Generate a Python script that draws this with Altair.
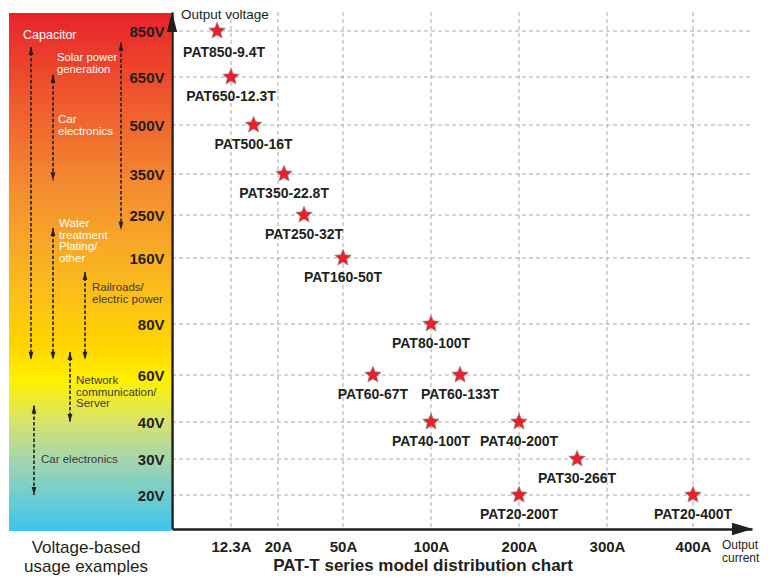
import altair as alt
import pandas as pd

# ---------------- data ----------------
models = ["PAT850-9.4T", "PAT650-12.3T", "PAT500-16T", "PAT350-22.8T", "PAT250-32T",
          "PAT160-50T", "PAT80-100T", "PAT60-67T", "PAT60-133T", "PAT40-100T",
          "PAT40-200T", "PAT30-266T", "PAT20-200T", "PAT20-400T"]
voltages = [850, 650, 500, 350, 250, 160, 80, 60, 60, 40, 40, 30, 20, 20]
currents = [9.4, 12.3, 16, 22.8, 32, 50, 100, 67, 133, 100, 200, 266, 200, 400]

voltage_ticks = [20, 30, 40, 60, 80, 160, 250, 350, 500, 650, 850]
current_ticks = [12.3, 20, 50, 100, 200, 300, 400]

usage_labels = ["Capacitor", "Solar power\ngeneration", "Car\nelectronics",
                "Water\ntreatment\nPlating/\nother", "Railroads/\nelectric power",
                "Network\ncommunication/\nServer", "Car electronics"]
usage_high = [780, 800, 660, 223, 143, 69, 47]
usage_low = [66, 219, 335, 66, 66, 40, 20]

# ---------------- layout / style ----------------
W, H = 580, 517
COND = "'Liberation Sans', Arial, sans-serif"
REG = "'Liberation Sans', Arial, sans-serif"
DARK = "#231f20"
STAR = ("M0,-1L0.2645,-0.3641L0.9511,-0.309L0.428,0.1391L0.5878,0.809L0,0.45"
        "L-0.5878,0.809L-0.428,0.1391L-0.9511,-0.309L-0.2645,-0.3641Z")

arrow_x = [-141, -51, -119, -119, -87, -102, -138]
label_pos = [(-149, 27, 12.5), (-115, 49, 11.3), (-114, 111, 11.5), (-113, 215, 11.5),
             (-80, 279, 11.5), (-96, 372, 11.5), (-131, 451, 11.5)]
label_col = ["white", "white", "white", "white", "#3a3a3a", "#3a3a3a", "#3a3a3a"]

xscale = alt.Scale(type="linear", domain=[0, 12.3, 20, 50, 100, 200, 300, 400, 466],
                   range=[0, 59, 106, 171, 259, 347, 435, 521, 580], nice=False, zero=False)
yscale = alt.Scale(type="linear", domain=[0, 20, 30, 40, 60, 80, 160, 250, 350, 500, 650, 850, 900],
                   range=[517, 483, 447, 410, 363, 312, 246, 203, 162, 113, 65, 19, 0],
                   nice=False, zero=False)

xaxis = alt.Axis(values=current_ticks, labelExpr="datum.value + 'A'", grid=False, ticks=False,
                 labelFont=COND, labelFontWeight="bold", labelFontSize=15, labelColor=DARK,
                 labelPadding=10, domainColor=DARK, domainWidth=2.5, title=None, zindex=1,
                 labelFlush=False, labelOverlap=False)
yaxis = alt.Axis(values=voltage_ticks, labelExpr="datum.value + 'V'", grid=False, ticks=False,
                 labelFont=COND, labelFontWeight="bold", labelFontSize=15, labelColor=DARK,
                 labelPadding=8, domainColor=DARK, domainWidth=2.5, title=None, zindex=1,
                 labelFlush=False, labelOverlap=False, labelBaseline="middle")

one = pd.DataFrame({"a": [0]})

df = pd.DataFrame({"model": models, "voltage": voltages, "current": currents})
X = alt.X("current:Q", scale=xscale, axis=xaxis)
Y = alt.Y("voltage:Q", scale=yscale, axis=yaxis)

# gradient panel
grad = alt.Gradient(gradient="linear", x1=0, x2=0, y1=0, y2=1, stops=[
    alt.GradientStop(color="#e8232a", offset=0),
    alt.GradientStop(color="#ef5a2d", offset=0.17),
    alt.GradientStop(color="#f4922f", offset=0.36),
    alt.GradientStop(color="#fbbc1c", offset=0.53),
    alt.GradientStop(color="#ffd400", offset=0.64),
    alt.GradientStop(color="#fff100", offset=0.71),
    alt.GradientStop(color="#d7e36c", offset=0.79),
    alt.GradientStop(color="#a6d6ac", offset=0.86),
    alt.GradientStop(color="#3cc5ef", offset=1.0),
])
panel = alt.Chart(one).mark_rect(color=grad).encode(
    x=alt.value(-163), x2=alt.value(-1), y=alt.value(1), y2=alt.value(519))

# grid lines
hgrid = alt.Chart(pd.DataFrame({"v": voltage_ticks})).mark_rule(
    color="#aaaaaa", strokeDash=[4, 3], strokeWidth=1).encode(
    y=alt.Y("v:Q", scale=yscale, axis=yaxis), x=alt.value(0), x2=alt.value(W))
vgrid = alt.Chart(pd.DataFrame({"c": current_ticks})).mark_rule(
    color="#aaaaaa", strokeDash=[4, 3], strokeWidth=1).encode(
    x=alt.X("c:Q", scale=xscale, axis=xaxis), y=alt.value(0), y2=alt.value(H))

layers = [panel, hgrid, vgrid]

# usage ranges (dashed double arrows)
for i in range(len(usage_labels)):
    d = pd.DataFrame({"hi": [usage_high[i]], "lo": [usage_low[i]]})
    base = alt.Chart(d)
    layers.append(base.mark_rule(color=DARK, strokeDash=[3.5, 2], strokeWidth=1.6).encode(
        x=alt.value(arrow_x[i]), y=alt.Y("hi:Q", scale=yscale, axis=yaxis), y2="lo:Q"))
    layers.append(base.mark_point(shape="M0,0 L0.6,2 L-0.6,2 Z", size=64, filled=True,
                                  color=DARK, opacity=1).encode(
        x=alt.value(arrow_x[i]), y=alt.Y("hi:Q", scale=yscale, axis=yaxis)))
    layers.append(base.mark_point(shape="M0,0 L0.6,-2 L-0.6,-2 Z", size=64, filled=True,
                                  color=DARK, opacity=1).encode(
        x=alt.value(arrow_x[i]), y=alt.Y("lo:Q", scale=yscale, axis=yaxis)))
    lx, ly, fs = label_pos[i]
    layers.append(alt.Chart(pd.DataFrame({"t": [usage_labels[i]]})).mark_text(
        align="left", baseline="alphabetic", font=REG, fontSize=fs, color=label_col[i],
        lineBreak="\n", lineHeight=11.6).encode(
        x=alt.value(lx), y=alt.value(ly), text="t:N"))

# axis arrowheads
layers.append(alt.Chart(one).mark_point(shape="M0,0 L-2,-0.6 L-2,0.6 Z", size=441, filled=True,
                                        color=DARK, opacity=1).encode(
    x=alt.value(W + 1), y=alt.value(H)))
layers.append(alt.Chart(one).mark_point(shape="M0,0 L0.52,2 L-0.52,2 Z", size=400, filled=True,
                                        color=DARK, opacity=1).encode(
    x=alt.value(0), y=alt.value(0)))

# stars and labels
stars = alt.Chart(df).mark_point(shape=STAR, filled=True, size=300, color="#e8202a",
                                 stroke="#8c8c8c", strokeWidth=0.7, opacity=1).encode(x=X, y=Y)
lab_main = alt.Chart(df).transform_filter("datum.model != 'PAT850-9.4T'").mark_text(
    font=COND, fontWeight="bold", fontSize=14, color=DARK, baseline="alphabetic", dy=24
).encode(x=X, y=Y, text="model:N")
lab_first = alt.Chart(df).transform_filter("datum.model == 'PAT850-9.4T'").mark_text(
    font=COND, fontWeight="bold", fontSize=14, color=DARK, baseline="alphabetic", dy=26, dx=7
).encode(x=X, y=Y, text="model:N")
layers += [stars, lab_main, lab_first]

# free texts
def txt(s, x, y, **kw):
    return alt.Chart(pd.DataFrame({"t": [s]})).mark_text(lineBreak="\n", **kw).encode(
        x=alt.value(x), y=alt.value(y), text="t:N")

layers.append(txt("Output voltage", 9, 6.5, align="left", baseline="alphabetic", font=REG,
                  fontSize=13.5, color=DARK))
layers.append(txt("Output\ncurrent", 550, 537, align="left", baseline="alphabetic", font=REG,
                  fontSize=12, color=DARK, lineHeight=13))
layers.append(txt("Voltage-based\nusage examples", -86, 541, align="center", baseline="alphabetic",
                  font=REG, fontSize=17, color=DARK, lineHeight=18.5))
layers.append(txt("PAT-T series model distribution chart", 251, 559, align="center",
                  baseline="alphabetic", font=REG, fontSize=17, fontWeight="bold", color=DARK))

chart = alt.layer(*layers).properties(
    width=W, height=H,
    autosize=alt.AutoSizeParams(type="none"),
    padding={"left": 164, "top": 4, "right": 9, "bottom": 47},
    background="white",
).configure_view(stroke=None)

chart.save("out.html", embed_options={"renderer": "svg", "actions": False})
